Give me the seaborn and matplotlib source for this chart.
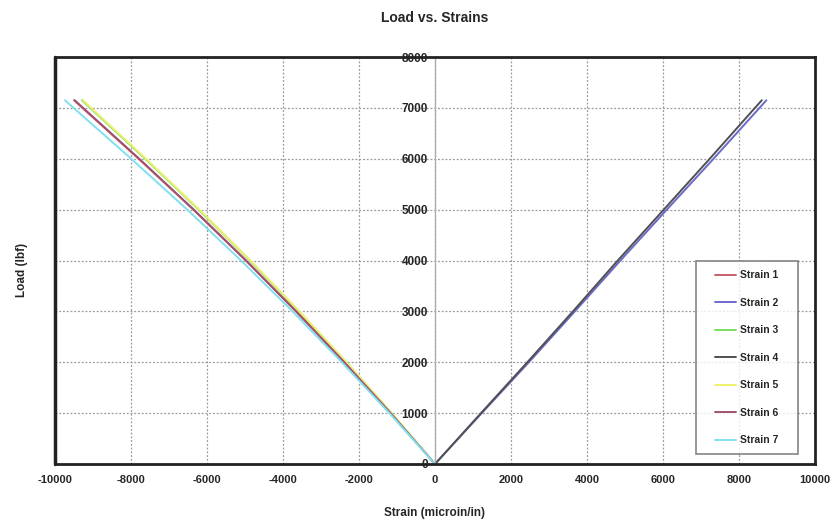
import matplotlib
matplotlib.use("Agg")
import matplotlib.pyplot as plt
import seaborn as sns
import pandas as pd

loads = [0, 1000, 2000, 3000, 4000, 5000, 6000, 7000, 7150]
strain1 = [0, -1170, -2390, -3660, -4980, -6360, -7800, -9280, -9500]
strain2 = [0, 1230, 2470, 3680, 4880, 6100, 7330, 8540, 8720]
strain3 = [0, -1144, -2337, -3579, -4870, -6220, -7628, -9076, -9291]
strain4 = [0, 1210, 2430, 3630, 4810, 6020, 7230, 8420, 8600]
strain5 = [0, -1141, -2330, -3569, -4856, -6201, -7605, -9048, -9263]
strain6 = [0, -1168, -2385, -3653, -4970, -6347, -7784, -9261, -9481]
strain7 = [0, -1200, -2450, -3750, -5105, -6520, -7995, -9512, -9738]
series_names = ["Strain 1", "Strain 2", "Strain 3", "Strain 4", "Strain 5", "Strain 6", "Strain 7"]
series_vals = [strain1, strain2, strain3, strain4, strain5, strain6, strain7]
colors = ["#c8606a", "#6a6acb", "#78e060", "#505050", "#f0f070", "#a05070", "#80e0f0"]
x_ticks = [-10000, -8000, -6000, -4000, -2000, 0, 2000, 4000, 6000, 8000, 10000]
y_ticks = [0, 1000, 2000, 3000, 4000, 5000, 6000, 7000, 8000]

rows = []
for name, vals in zip(series_names, series_vals):
    for s, l in zip(vals, loads):
        rows.append({"Strain": s, "Load": l, "Series": name})
df = pd.DataFrame(rows)

sns.set_style("white")
plt.rcParams["font.family"] = ["Liberation Sans Narrow", "Liberation Sans", "DejaVu Sans"]
plt.rcParams["font.weight"] = "bold"

fig = plt.figure(figsize=(8.35, 5.23), dpi=100)
ax = fig.add_axes([55 / 835, 59 / 523, 760 / 835, 407 / 523])

sns.lineplot(data=df, x="Strain", y="Load", hue="Series", palette=colors,
             sort=False, estimator=None, lw=1.4, ax=ax, legend=True)

ax.spines["left"].set_position(("data", 0))
ax.spines["left"].set_color("#aaaaaa")
ax.spines["left"].set_linewidth(0.9)
for sp in ["top", "right", "bottom"]:
    ax.spines[sp].set_color("#222222")
    ax.spines[sp].set_linewidth(2)

ax.set_xlim(-10000, 10000)
ax.set_ylim(0, 8000)
ax.set_xticks(x_ticks)
ax.set_yticks(y_ticks)
ax.set_xticklabels([str(v) for v in x_ticks], fontsize=8, fontweight="bold")
ax.set_yticklabels([str(v) for v in y_ticks], fontsize=8.5, fontweight="bold")
ax.grid(True, linestyle=(0, (1.5, 1.5)), color="#999999", lw=0.9)
ax.set_axisbelow(True)
ax.axvline(-10000, color="#222222", lw=2.5, clip_on=False)
ax.tick_params(axis="y", length=0, pad=5)
ax.tick_params(axis="x", length=0, pad=8)

ax.set_xlabel("Strain (microin/in)", fontsize=8.5, fontweight="bold", labelpad=16)
ax.set_ylabel("")
fig.text(22 / 835, 1 - 270 / 523, "Load (lbf)", rotation=90, ha="center", va="center",
         fontsize=8.5, fontweight="bold")
fig.text(435 / 835, 1 - 18 / 523, "Load vs. Strains", ha="center", va="center",
         fontsize=10, fontweight="bold")

leg = ax.legend(loc="lower right", bbox_to_anchor=(0.964, 0.024), fontsize=7.5,
                frameon=True, fancybox=False, edgecolor="#666666", labelspacing=1.68,
                handlelength=2.0, handletextpad=0.45, borderpad=0.85, borderaxespad=0)
frame = leg.get_frame()
frame.set_linewidth(1.2)
frame.set_boxstyle("square", pad=1.0)
frame.set_mutation_aspect(0.01)
for t in leg.get_texts():
    t.set_fontweight("bold")

fig.savefig("out.png", dpi=100)
